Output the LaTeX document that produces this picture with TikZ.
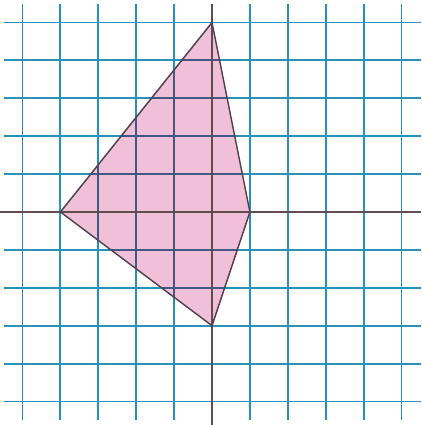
\documentclass[tikz,border=0pt]{standalone}
\begin{document}
\begin{tikzpicture}[x=1cm,y=1cm,
  gridline/.style={draw=gridblue,line width=1.4pt},
  gridinside/.style={draw=gridpurple,line width=1.4pt},
  axisline/.style={draw=axisgray,line width=1.5pt},
  kitefill/.style={fill=kitepink},
  kiteedge/.style={draw=edgegray,line width=1.1pt,line join=round}]
\definecolor{gridblue}{RGB}{40,145,185}
\definecolor{gridpurple}{RGB}{65,88,132}
\definecolor{axisgray}{RGB}{95,75,80}
\definecolor{kitepink}{RGB}{240,192,216}
\definecolor{edgegray}{RGB}{85,65,80}
\useasboundingbox (-5.594,-5.62) rectangle (5.515,5.594);
\fill[white] (-5.594,-5.62) rectangle (5.515,5.594);
\coordinate (T) at (0,5);
\coordinate (L) at (-4,0);
\coordinate (R) at (1,0);
\coordinate (B) at (0,-3);
\coordinate (xl) at (-5.594,0);
\coordinate (xr) at (5.515,0);
\coordinate (yt) at (0,5.5);
\coordinate (yb) at (0,-5.62);
\path[kitefill] (T) -- (R) -- (B) -- (L) -- cycle;
\foreach \i in {-5,...,5} {
  \draw[gridline] (\i,-5.5) -- (\i,5.5);
  \draw[gridline] (-5.5,\i) -- (5.515,\i);
}
\begin{scope}
\clip (T) -- (R) -- (B) -- (L) -- cycle;
\foreach \i in {-5,...,5} {
  \draw[gridinside] (\i,-5.5) -- (\i,5.5);
  \draw[gridinside] (-5.5,\i) -- (5.515,\i);
}
\end{scope}
\draw[axisline] (xl) -- (xr);
\draw[axisline] (yb) -- (yt);
\draw[kiteedge] (T) -- (R) -- (B) -- (L) -- cycle;
\end{tikzpicture}
\end{document}
